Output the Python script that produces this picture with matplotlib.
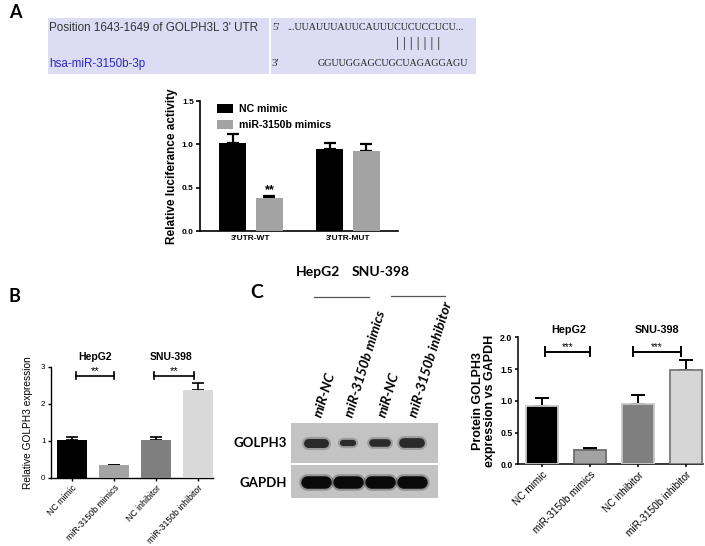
import numpy as np
import matplotlib
matplotlib.use("Agg")
import matplotlib.pyplot as plt
from matplotlib.patches import Rectangle

# ---- data ----
# panel A: luciferase reporter
luc_groups = ["3'UTR-WT", "3'UTR-MUT"]
luc_series = ["NC mimic", "miR-3150b mimics"]
luc_nc = [1.01, 0.95]
luc_nc_err = [0.11, 0.07]
luc_mir = [0.38, 0.92]
luc_mir_err = [0.02, 0.08]

# panel B: qPCR
b_labels = ["NC mimic", "miR-3150b mimics", "NC inhibitor", "miR-3150b inhibitor"]
b_vals = [1.01, 0.33, 1.01, 2.37]
b_err = [0.09, 0.02, 0.09, 0.19]

# panel C: western blot quantification
c_labels = ["NC mimic", "miR-3150b mimics", "NC inhibitor", "miR-3150b inhibitor"]
c_vals = [0.92, 0.22, 0.95, 1.49]
c_err = [0.12, 0.04, 0.14, 0.16]

# blot lanes (relative band width / thickness)
lanes = ["miR-NC", "miR-3150b mimics", "miR-NC", "miR-3150b inhibitor"]
golph3_w = [0.90, 0.74, 0.82, 0.92]
golph3_t = [6.5, 4.5, 5.5, 7.0]
gapdh_w = [0.97, 0.97, 0.97, 0.97]
gapdh_t = [9.0, 9.0, 9.0, 9.0]

bar_faces = ["#000000", "#a3a3a3", "#7f7f7f", "#d6d6d6"]
bar_edges = ["#c8c8c8", "#6e6e6e", "#c8c8c8", "#7a7a7a"]

ARIAL = "Liberation Sans"
CAL = "Lato"

W, H = 705, 546
fig = plt.figure(figsize=(7.05, 5.46), dpi=100)


def box(l, t, r, b):
    return [l / W, 1 - b / H, (r - l) / W, (b - t) / H]


ov = fig.add_axes([0, 0, 1, 1])
ov.set_xlim(0, W)
ov.set_ylim(H, 0)
ov.axis("off")

# ---- panel A header box ----
ov.text(9, 13, "A", fontsize=13, fontweight="bold", family=CAL, va="center")
ov.add_patch(Rectangle((48, 18), 221, 56, color="#dcdcf5", lw=0))
ov.add_patch(Rectangle((271, 18), 205, 56, color="#dcdcf5", lw=0))
ov.text(49, 28, "Position 1643-1649 of GOLPH3L 3' UTR", fontsize=8.4,
        family=ARIAL, color="#333333", va="center")
ov.text(49, 64, "hsa-miR-3150b-3p", fontsize=8.4, family=ARIAL,
        color="#2a2ac8", va="center")
ov.text(272, 28, "5'", fontsize=8, family="Liberation Serif", color="#333333", va="center")
ov.text(272, 64, "3'", fontsize=8, family="Liberation Serif", color="#333333", va="center")
ov.text(287, 28, "...UUAUUUAUUCAUUUCUCUCCUCU...", fontsize=7.2,
        family="Liberation Serif", color="#222222", va="center")
ov.text(418, 44, "| | | | | | |", fontsize=11, family="Liberation Serif",
        color="#222222", va="center", ha="center")
ov.text(318, 64, "GGUUGGAGCUGCUAGAGGAGU", fontsize=7.2,
        family="Liberation Serif", color="#222222", va="center")

# ---- panel A chart ----
axA = fig.add_axes(box(200, 101, 398, 231))
x = np.arange(len(luc_groups))
bw = 0.28
axA.bar(x - 0.19, luc_nc, bw, color="black", label=luc_series[0], zorder=3)
axA.bar(x + 0.19, luc_mir, bw, color="#a3a3a3", label=luc_series[1], zorder=3)
axA.errorbar(x - 0.19, luc_nc, yerr=[np.zeros(2), luc_nc_err], fmt="none",
             ecolor="black", elinewidth=1.6, capsize=4, capthick=1.6, zorder=2)
axA.errorbar(x + 0.19, luc_mir, yerr=[np.zeros(2), luc_mir_err], fmt="none",
             ecolor="black", elinewidth=1.6, capsize=4, capthick=1.6, zorder=2)
axA.text(0.19, 0.405, "**", ha="center", va="bottom", fontsize=9, fontweight="bold", family=ARIAL)
axA.set_xlim(-0.526, 1.515)
axA.set_ylim(0, 1.5)
axA.set_yticks([0, 0.5, 1.0, 1.5])
axA.set_yticklabels(["0.0", "0.5", "1.0", "1.5"])
axA.set_xticks(x)
axA.set_xticklabels(luc_groups)
for s in ["top", "right"]:
    axA.spines[s].set_visible(False)
for s in ["left", "bottom"]:
    axA.spines[s].set_linewidth(1.2)
axA.tick_params(axis="x", length=0, labelsize=6, pad=3)
axA.tick_params(axis="y", length=3, width=1.2, labelsize=6, pad=1.5)
for t in axA.get_xticklabels() + axA.get_yticklabels():
    t.set_fontweight("bold")
    t.set_family(ARIAL)
axA.set_ylabel("Relative luciferance activity", fontsize=8.5, fontweight="bold",
               family=ARIAL, labelpad=3)
axA.legend(loc="upper left", bbox_to_anchor=(0.04, 1.05), frameon=False,
           handlelength=1.5, handleheight=0.9, handletextpad=0.5, labelspacing=0.55,
           prop={"family": ARIAL, "weight": "bold", "size": 7.6})

# ---- panel B chart ----
ov.text(9, 297, "B", fontsize=13, fontweight="bold", family=CAL, va="center")
axB = fig.add_axes(box(51, 366.7, 213, 477.7))
xb = np.arange(len(b_labels))
axB.bar(xb, b_vals, 0.71, color=["#000000", "#a3a3a3", "#7f7f7f", "#d9d9d9"], zorder=3)
axB.errorbar(xb, b_vals, yerr=[np.zeros(4), b_err], fmt="none", ecolor="black",
             elinewidth=1.2, capsize=4, capthick=1.2, zorder=2)
axB.set_xlim(-0.5, 3.36)
axB.set_ylim(0, 3)
axB.set_yticks([0, 1, 2, 3])
axB.set_xticks(xb)
axB.set_xticklabels(b_labels, rotation=47, ha="right", rotation_mode="anchor")
for s in ["top", "right"]:
    axB.spines[s].set_visible(False)
for s in ["left", "bottom"]:
    axB.spines[s].set_linewidth(1.0)
axB.tick_params(axis="x", length=2.5, width=1.0, labelsize=6.3, pad=1.5)
axB.tick_params(axis="y", length=2.5, width=1.0, labelsize=5.8, pad=1.5)
for t in axB.get_xticklabels() + axB.get_yticklabels():
    t.set_family(ARIAL)
axB.set_ylabel("Relative GOLPH3 expression", fontsize=7.3, family=ARIAL, labelpad=6)
for (a, b) in [(0.1, 1.0), (1.95, 2.9)]:
    axB.plot([a, b], [2.76, 2.76], color="black", lw=1.2, clip_on=False)
    axB.plot([a, a], [2.66, 2.86], color="black", lw=1.2, clip_on=False)
    axB.plot([b, b], [2.66, 2.86], color="black", lw=1.2, clip_on=False)
    axB.text((a + b) / 2, 2.74, "**", ha="center", va="bottom", fontsize=8, family=ARIAL)
axB.text(0.55, 3.26, "HepG2", ha="center", va="center", fontsize=7.5,
         fontweight="bold", family=ARIAL, clip_on=False)
axB.text(2.35, 3.26, "SNU-398", ha="center", va="center", fontsize=7.5,
         fontweight="bold", family=ARIAL, clip_on=False)

# ---- panel C western blot ----
ov.text(250, 293, "C", fontsize=14, fontweight="bold", family=CAL, va="center")
ov.text(318, 272, "HepG2", fontsize=10, fontweight="bold", family=CAL, ha="center", va="center")
ov.text(381, 272, "SNU-398", fontsize=10, fontweight="bold", family=CAL, ha="center", va="center")
ov.plot([314, 369], [297, 297], color="#555555", lw=0.9)
ov.plot([391, 445], [296, 296], color="#555555", lw=0.9)
ov.text(287, 443, "GOLPH3", fontsize=9.5, fontweight="bold", family=CAL, ha="right", va="center")
ov.text(287, 483, "GAPDH", fontsize=9.5, fontweight="bold", family=CAL, ha="right", va="center")

gax = fig.add_axes(box(291, 423, 438, 463))
dax = fig.add_axes(box(291, 465, 438, 498))
lx = np.arange(len(lanes))
for bx, widths, thick, col in [(gax, golph3_w, golph3_t, "#2a2a2a"),
                               (dax, gapdh_w, gapdh_t, "#0a0a0a")]:
    bx.set_facecolor("#c3c3c3")
    bx.set_xlim(-0.78, 3.81)
    bx.set_ylim(0, 1)
    bx.set_xticks([])
    bx.set_yticks([])
    for s in bx.spines.values():
        s.set_visible(False)
    for xi, w, t in zip(lx, widths, thick):
        half = w / 2 - 0.2
        bx.plot([xi - half, xi + half], [0.5, 0.5], color=col, lw=t + 3,
                alpha=0.25, solid_capstyle="round")
        bx.plot([xi - half, xi + half], [0.5, 0.5], color=col, lw=t,
                solid_capstyle="round")

for xi, name in zip(lx, lanes):
    gax.text(xi + 0.05, 1.15, name, rotation=73, rotation_mode="anchor",
             ha="left", va="center", fontsize=10, fontweight="bold",
             fontstyle="italic", family=CAL, clip_on=False)

# ---- panel C chart ----
axC = fig.add_axes(box(518, 337.3, 703, 464.3))
xc = np.arange(len(c_labels))
axC.bar(xc, c_vals, 0.67, color=bar_faces, edgecolor=bar_edges, linewidth=1.3, zorder=3)
axC.errorbar(xc, c_vals, yerr=[np.zeros(4), c_err], fmt="none", ecolor="black",
             elinewidth=1.4, capsize=5, capthick=1.4, zorder=2)
axC.set_xlim(-0.51, 3.36)
axC.set_ylim(0, 2.0)
axC.set_yticks([0, 0.5, 1.0, 1.5, 2.0])
axC.set_yticklabels(["0.0", "0.5", "1.0", "1.5", "2.0"])
axC.set_xticks(xc)
axC.set_xticklabels(c_labels, rotation=45, ha="right", rotation_mode="anchor")
for s in ["top", "right"]:
    axC.spines[s].set_visible(False)
for s in ["left", "bottom"]:
    axC.spines[s].set_linewidth(1.1)
axC.tick_params(axis="x", length=2.5, width=1.1, labelsize=7.2, pad=1.5)
axC.tick_params(axis="y", length=2.5, width=1.1, labelsize=6.3, pad=1.5)
for t in axC.get_yticklabels():
    t.set_family(ARIAL)
    t.set_fontweight("bold")
for t in axC.get_xticklabels():
    t.set_family(ARIAL)
axC.set_ylabel("Protein GOLPH3\nexpression vs GAPDH", fontsize=9, fontweight="bold",
               family=ARIAL, labelpad=3, linespacing=1.0)
for (a, b) in [(0.05, 1.0), (1.9, 2.9)]:
    axC.plot([a, b], [1.77, 1.77], color="black", lw=1.4, clip_on=False)
    axC.plot([a, a], [1.7, 1.84], color="black", lw=1.4, clip_on=False)
    axC.plot([b, b], [1.7, 1.84], color="black", lw=1.4, clip_on=False)
    axC.text((a + b) / 2, 1.76, "***", ha="center", va="bottom", fontsize=7, family=ARIAL)
axC.text(0.55, 2.11, "HepG2", ha="center", va="center", fontsize=7.8,
         fontweight="bold", family=ARIAL, clip_on=False)
axC.text(2.4, 2.11, "SNU-398", ha="center", va="center", fontsize=7.8,
         fontweight="bold", family=ARIAL, clip_on=False)

fig.savefig("out.png", dpi=100)
